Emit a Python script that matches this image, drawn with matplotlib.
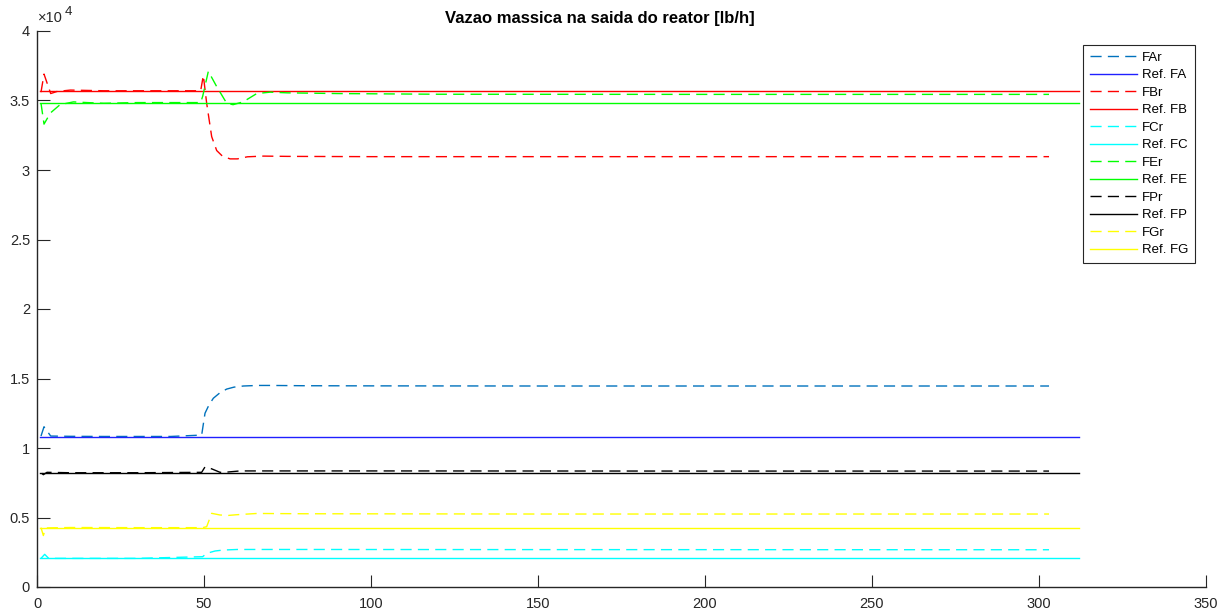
import numpy as np
import matplotlib
matplotlib.use('Agg')
import matplotlib.pyplot as plt

plt.rcParams['font.family'] = ['Liberation Sans', 'DejaVu Sans']

# setpoints (constant references)
t_ref = [1, 312]
ref_FA = 10810
ref_FB = 35650
ref_FC = 2060
ref_FE = 34820
ref_FP = 8180
ref_FG = 4240

# reactor outlet flows [lb/h]
t_FAr = [1.2, 2.1, 4.1, 10, 20, 30, 40, 49.3, 50.3, 51.5, 52.8, 54.8, 56.8, 59, 61.8, 66, 70, 80, 100, 150, 200, 250, 303]
FAr = [10860, 11530, 10860, 10840, 10830, 10830, 10830, 10930, 12500, 13100, 13580, 13980, 14240, 14380, 14460, 14500, 14500,
       14480, 14470, 14460, 14460, 14460, 14460]

t_FBr = [1.2, 2.1, 4.1, 6, 10, 20, 30, 40, 49.0, 49.8, 50.8, 52.3, 53.8, 55.5, 57.8, 60, 63, 67.8, 75, 100, 150, 200, 303]
FBr = [35600, 36900, 35500, 35650, 35750, 35700, 35700, 35700, 35700, 36800, 34800, 32400, 31400, 31000, 30800, 30800, 30950,
       31000, 30980, 30960, 30960, 30960, 30960]

t_FCr = [1.2, 2.3, 3.5, 10, 30, 49.6, 50.8, 53.3, 55.8, 60, 80, 150, 303]
FCr = [2060, 2350, 2060, 2060, 2060, 2180, 2420, 2590, 2660, 2700, 2700, 2690, 2680]

t_FEr = [1.2, 2.1, 4, 6.9, 10.9, 15, 20, 30, 40, 49.0, 49.6, 51.3, 53.8, 56.8, 58.7, 61.7, 65.8, 69.8, 75, 90, 120, 200, 303]
FEr = [34800, 33300, 34100, 34700, 34900, 34850, 34800, 34850, 34850, 34850, 35300, 37100, 36000, 34800, 34700, 34900, 35500,
       35600, 35550, 35500, 35450, 35440, 35440]

t_FPr = [1.4, 1.9, 3, 10, 30, 49.3, 50.3, 52.3, 54.8, 57, 60.8, 70, 100, 200, 303]
FPr = [8180, 8080, 8250, 8220, 8220, 8250, 8640, 8500, 8250, 8270, 8350, 8350, 8350, 8340, 8340]

t_FGr = [1.2, 1.9, 2.6, 10, 30, 49.6, 50.8, 52.3, 54.8, 57.3, 59.8, 65.8, 80, 150, 303]
FGr = [4270, 3700, 4250, 4280, 4270, 4270, 4340, 5300, 5180, 5150, 5200, 5290, 5270, 5250, 5250]

dash = (8, 4.5)
lw = 1.0

fig = plt.figure(figsize=(12.32, 6.09), dpi=100)
ax = fig.add_axes([37 / 1232, 22 / 609, (1206 - 37) / 1232, (587 - 31) / 609])

ax.plot(t_FAr, FAr, color='#0072BD', lw=lw, dashes=dash, label='FAr')
ax.plot(t_ref, [ref_FA] * 2, color='#2020FF', lw=lw, label='Ref. FA')
ax.plot(t_FBr, FBr, color='#FF0000', lw=lw, dashes=dash, label='FBr')
ax.plot(t_ref, [ref_FB] * 2, color='#FF0000', lw=lw, label='Ref. FB')
ax.plot(t_FCr, FCr, color='#00FFFF', lw=lw, dashes=dash, label='FCr')
ax.plot(t_ref, [ref_FC] * 2, color='#00FFFF', lw=lw, label='Ref. FC')
ax.plot(t_FEr, FEr, color='#00FF00', lw=lw, dashes=dash, label='FEr')
ax.plot(t_ref, [ref_FE] * 2, color='#00FF00', lw=lw, label='Ref. FE')
ax.plot(t_FPr, FPr, color='#000000', lw=lw, dashes=dash, label='FPr')
ax.plot(t_ref, [ref_FP] * 2, color='#000000', lw=lw, label='Ref. FP')
ax.plot(t_FGr, FGr, color='#FFFF00', lw=lw, dashes=dash, label='FGr')
ax.plot(t_ref, [ref_FG] * 2, color='#FFFF00', lw=lw, label='Ref. FG')

ax.set_xlim(0, 350)
ax.set_ylim(0, 40000)
ax.set_xticks(np.arange(0, 351, 50))
yt = np.arange(0, 40001, 5000)
ax.set_yticks(yt)
ax.set_yticklabels(['%g' % (v / 1e4) for v in yt])

for s in ['top', 'right']:
    ax.spines[s].set_visible(False)
for s in ['left', 'bottom']:
    ax.spines[s].set_color('#262626')
    ax.spines[s].set_linewidth(1.0)
ax.tick_params(direction='in', length=9, width=0.8, color='#262626',
               labelsize=10.5, labelcolor='#262626', pad=5)
ax.tick_params(axis='x', pad=7)

# exponent shown above the y axis
fig.text(38 / 1232, 1 - 22 / 609, '\u00d710', fontsize=10.5, color='#262626',
         ha='left', va='baseline')
fig.text(65 / 1232, 1 - 15 / 609, '4', fontsize=9.5, color='#262626',
         ha='left', va='baseline')

fig.text(600 / 1232, 1 - 19 / 609, 'Vazao massica na saida do reator [lb/h]',
         fontsize=12, fontweight='bold', ha='center', va='center')

leg = ax.legend(loc='upper left', bbox_to_anchor=(1083 / 1232, 1 - 45 / 609),
                bbox_transform=fig.transFigure, fontsize=9.5, frameon=True,
                fancybox=False, edgecolor='#262626', framealpha=1,
                handlelength=3.6, handletextpad=0.35, labelspacing=0.4,
                borderpad=0.5, borderaxespad=0)
leg.get_frame().set_linewidth(0.8)

fig.savefig('out.png', dpi=100)
